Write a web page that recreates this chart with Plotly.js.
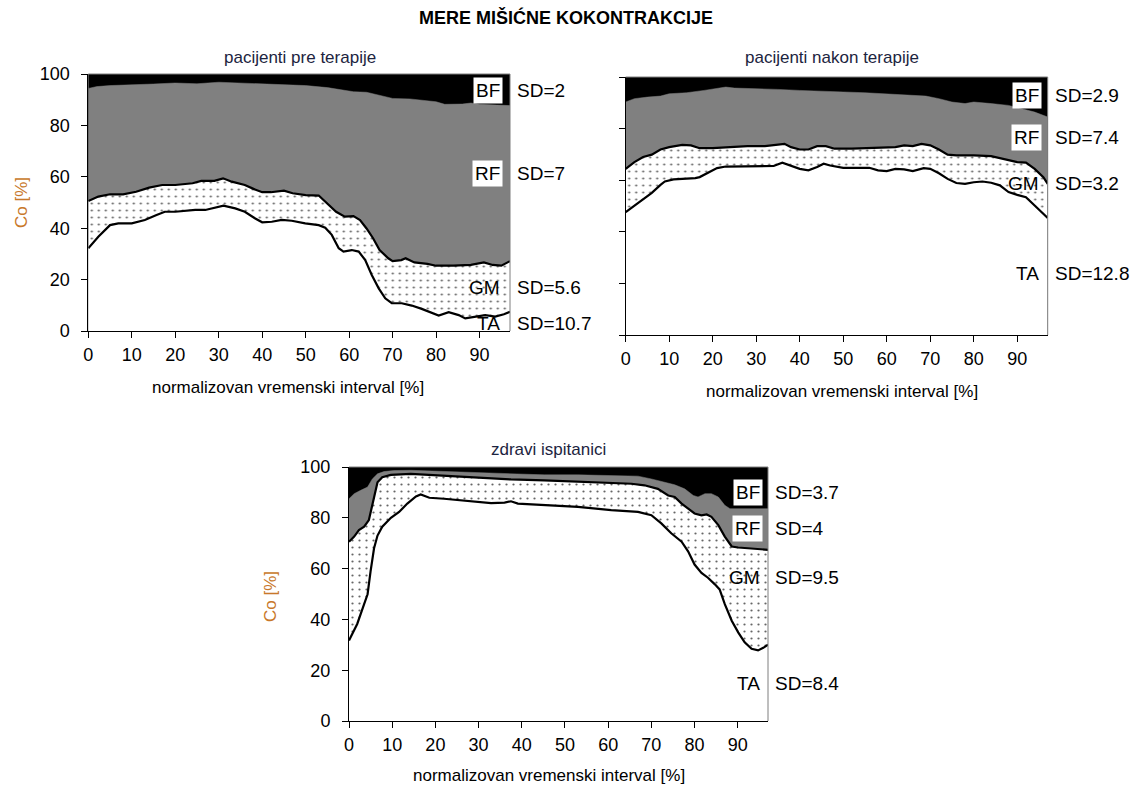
<!DOCTYPE html>
<html>
<head>
<meta charset="utf-8">
<script src="https://cdn.plot.ly/plotly-3.0.1.min.js"></script>
<style>html,body{margin:0;padding:0;background:#fff;}#chart{width:1132px;height:792px;}</style>
</head>
<body>
<div id="chart"></div>
<script>
// ---------- DATA (upper boundary of each cumulative layer, Co [%]) ----------
// Panel 1: pacijenti pre terapije
const preX_TA = [0,2.3,5,6.9,10,13,15.7,17.6,20,24.6,26.9,29.5,31.1,33.8,36,38.4,40,42.2,44.5,46.8,49.9,53,54.5,56,57.6,58.7,60.6,62.2,63.7,65.2,66.8,68.3,69.8,72.1,74.4,76.7,79,80.6,82.9,85.2,86.7,89,91.3,93.6,95.6,97];
const preTA   = [32.2,36.7,41.2,41.9,41.9,43.2,45.1,46.4,46.4,47.1,47.1,48,48.8,47.7,46.4,43.8,42.3,42.5,43.2,42.9,41.9,41.2,40.2,37.4,32.2,30.9,31.5,30.9,27.6,21.8,16.6,12.7,10.8,10.8,9.9,8.6,6.9,6.0,7.3,6.2,4.9,5.6,6.2,5.6,6.5,7.5];
const preX_GM = [0,2.3,5,8,11,14,17,20,24,26,29,31,33,36,38,40,42,45,47,50,53,55,57,59,61,62.5,64,65.5,67,69,70,72,73,75,78,80,84,88,91,93,95,97];
const preGM   = [50.6,52.3,53.2,53.2,54.2,55.8,56.8,56.8,57.5,58.4,58.4,59.4,58.1,56.8,55.3,54,54,54.6,53.6,52.9,52.7,49.7,46.4,44.5,44.7,43.2,39.9,36.1,31.5,28.3,27.2,27.6,28.3,26.7,26.1,25.4,25.4,25.7,26.7,25.7,25.4,27.2];
const preX_RF = [0,2,5,10,15,20,25,30,35,40,45,50,55,58,61,64,67,70,74,76,80,82,86,88,90,94,97];
const preRF   = [94.4,95.1,95.5,95.7,96.1,96.5,96.2,96.8,96.5,96.1,96,95.5,94.7,93.8,93.1,92.9,91.6,90.5,90.3,89.9,89.2,88.2,88.3,88.7,88.2,87.9,87.7];

// Panel 2: pacijenti nakon terapije
const postX_TA = [0,2,4,6,8,9,11,13,16,17,19,21,23,26,30,34,36,38,40,42,44,45.5,47,50,53,56,58,60,62,64,66,68.5,70,72,74,76,78,80,82,84,86,88,90,92,94,96,97];
const postTA   = [47.6,50.2,52.8,55.1,58.2,59.5,60.3,60.5,60.8,61.2,62.9,64.7,65.3,65.3,65.3,65.5,66.8,65.7,64.4,63.8,65.1,66.4,65.7,64.8,64.8,64.8,63.8,63.5,64.4,64.2,63.5,64.7,64.4,62.7,60.5,58.9,58.6,59.2,59.5,59,58,55.4,54.3,53.4,50.2,47,45.4];
const postX_GM = [0,2,4,6,8,10,13,15,17,20,24,28,32,35,36.5,38,40,42,44,46,48,52,56,60,62,64,66,68,70,72,74,76,80,84,86,88,90,92,94,96,97];
const postGM   = [64.4,67,69,69.9,71.9,72.8,73.7,73.5,72.4,72.4,72.8,73.2,73.2,73.7,74.1,72.8,71.9,71.9,73.2,73.2,72.2,72.2,72.4,72.8,72.8,73.5,73.2,74.1,73.5,71.9,69.9,69.6,69.6,69.3,68.6,67.7,67,66.8,64.4,61.2,58.6];
const postX_RF = [0,2,5,8,10,14,18,21,23,25,30,35,40,45,50,55,60,65,69,72,75,78,80,84,88,91,94,97];
const postRF   = [90.3,91.6,92.2,92.6,93.5,93.9,94.8,95.7,96.1,95.7,95.5,95.2,94.8,94.4,94.2,93.9,93.4,93.1,92.6,91.6,90.3,89.7,90.3,89.7,89,87.7,86.4,84.5];

// Panel 3: zdravi ispitanici
const healthyX_TA = [0,1.9,3.5,4.3,5.0,5.8,6.6,7.7,9.7,11.6,13.5,15.5,16.6,18.6,22,25.9,29.8,32.9,36,37.5,39.1,45.2,53,60.7,66.9,70,72.3,74.6,77,78.5,80,81.6,83.1,84.7,85.8,87,88.6,90.1,91.6,93.2,94.7,95.9,97];
const healthyTA   = [31.7,38.2,46,49.9,59,68,73,76.5,80,82.3,85.6,88.4,89.2,87.9,87.5,86.9,86.5,85.8,86,86.5,85.6,84.9,84.3,83,82.3,81,77.8,73.9,70.6,66.8,61.6,58.3,56.4,53.8,51.8,46,39.5,34.9,31,28.4,27.8,28.8,30];
const healthyX_GM = [0,1.2,2.3,3.5,4.6,5.8,6.6,7.7,9.7,14.3,18.2,22,29.8,37.5,45.2,53,60.7,65.4,68.4,71.5,73.9,75.4,77,78.5,80,81.6,82.8,83.9,85.5,87,88.6,90.1,93.2,97];
const healthyGM   = [70.6,72.6,75.2,76.5,79.1,87.5,94,96,96.9,97.3,96.9,96.4,95.6,95.1,94.7,94.3,93.8,93.4,92.8,91.4,88.8,88.2,85.6,83.6,81.7,81,81.3,80.4,77.1,72.6,68.7,68.3,67.8,67.4];
const healthyX_RF = [0,1.2,2.7,4.3,5.4,6.6,8.1,10.4,14.3,22,29.8,37.5,45.2,53,60.7,66.9,70,73.1,75.4,77.7,79.7,80.8,82.4,83.9,85.5,87,88.2,97];
const healthyRF   = [87.5,89.5,90.8,92.1,95.3,97.3,98.2,98.6,98.7,98.2,97.7,97.3,96.9,96.9,96.6,96.4,95.3,94,93,91.4,88.8,88.2,89.5,89.5,88.2,84.9,83.6,83.6];

// Labels
const mainTitle = "MERE MIŠIĆNE KOKONTRAKCIJE";
const panelTitles = ["pacijenti pre terapije", "pacijenti nakon terapije", "zdravi ispitanici"];
const muscles = ["BF", "RF", "GM", "TA"];
const sdPre = ["SD=2", "SD=7", "SD=5.6", "SD=10.7"];
const sdPost = ["SD=2.9", "SD=7.4", "SD=3.2", "SD=12.8"];
const sdHealthy = ["SD=3.7", "SD=4", "SD=9.5", "SD=8.4"];
const xTicks = [0,10,20,30,40,50,60,70,80,90];
const yTicks = [0,20,40,60,80,100];
const xTitle = "normalizovan vremenski interval [%]";
const yTitle = "Co [%]";

// ---------- STYLE ----------
const FONT = "Liberation Sans, Arial, sans-serif";
const W = 1132, H = 792;
const px = v => v / W;          // x pixel -> paper
const py = v => (H - v) / H;    // y pixel -> paper

const panels = [
  {xa:'x',  ya:'y',  TA:[preX_TA,preTA], GM:[preX_GM,preGM], RF:[preX_RF,preRF], sd:sdPre,
   labY:[93.4,61.4,17.0,3.0], labX:95.4,
   dom:{x:[88.3,510], y:[74,331]}, title:[300,57], xt:[288,387], yt:[22,203], ylabels:true},
  {xa:'x2', ya:'y2', TA:[postX_TA,postTA], GM:[postX_GM,postGM], RF:[postX_RF,postRF], sd:sdPost,
   labY:[92.9,76.7,58.6,23.7], labX:95.6,
   dom:{x:[625.7,1047.7], y:[77,335]}, title:[832,57], xt:[842,391], yt:null, ylabels:false},
  {xa:'x3', ya:'y3', TA:[healthyX_TA,healthyTA], GM:[healthyX_GM,healthyGM], RF:[healthyX_RF,healthyRF], sd:sdHealthy,
   labY:[90.1,75.8,56.4,14.8], labX:95.8,
   dom:{x:[349,768], y:[467,721]}, title:[548,450], xt:[549,775], yt:[270,597], ylabels:true}
];

const traces = [];
const annotations = [];
const shapes = [];
const layout = {
  width: W, height: H,
  margin: {l:0, r:0, t:0, b:0},
  paper_bgcolor: '#ffffff',
  plot_bgcolor: '#000000',
  showlegend: false,
  font: {family: FONT, size: 17, color: '#000'},
  annotations: annotations,
  shapes: shapes
};

panels.forEach((p, i) => {
  const n = i === 0 ? '' : String(i + 1);
  // RF layer (gray) - BF is the black plot background above it
  traces.push({x: p.RF[0], y: p.RF[1], xaxis: p.xa, yaxis: p.ya, type: 'scatter', mode: 'lines',
    fill: 'tozeroy', fillcolor: '#808080', line: {color: '#808080', width: 0.5}, hoverinfo: 'skip'});
  // GM layer (dotted)
  traces.push({x: p.GM[0], y: p.GM[1], xaxis: p.xa, yaxis: p.ya, type: 'scatter', mode: 'lines',
    fill: 'tozeroy', fillcolor: '#ffffff',
    fillpattern: {shape: '.', size: 7, solidity: 0.08, fgcolor: '#666666', bgcolor: '#ffffff'},
    line: {color: '#000000', width: 2.2}, hoverinfo: 'skip'});
  // TA layer (white)
  traces.push({x: p.TA[0], y: p.TA[1], xaxis: p.xa, yaxis: p.ya, type: 'scatter', mode: 'lines',
    fill: 'tozeroy', fillcolor: '#ffffff', line: {color: '#000000', width: 2.2}, hoverinfo: 'skip'});

  layout['xaxis' + n] = {
    domain: [px(p.dom.x[0]), px(p.dom.x[1])], anchor: p.ya, range: [0, 97],
    tickmode: 'array', tickvals: xTicks, ticktext: xTicks.map(String),
    ticks: 'outside', ticklen: 6, tickcolor: '#000', tickwidth: 1,
    showline: true, linecolor: '#000', linewidth: 1, showgrid: false, zeroline: false,
    tickfont: {family: FONT, size: 18, color: '#000'}, ticklabelstandoff: 1, fixedrange: true
  };
  layout['yaxis' + n] = {
    domain: [py(p.dom.y[1]), py(p.dom.y[0])], anchor: p.xa, range: [0, 100],
    tickmode: 'array', tickvals: yTicks, ticktext: yTicks.map(String),
    ticks: 'outside', ticklen: 6, tickcolor: '#000', tickwidth: 1,
    showline: true, linecolor: '#000', linewidth: 1, showgrid: false, zeroline: false,
    showticklabels: p.ylabels,
    tickfont: {family: FONT, size: 18, color: '#000'}, ticklabelstandoff: 8, fixedrange: true
  };

  // frame on right / top
  shapes.push({type: 'line', xref: p.xa + ' domain', yref: p.ya + ' domain', x0: 1, x1: 1, y0: 0, y1: 1,
    line: {color: '#7f7f7f', width: 1}});
  shapes.push({type: 'line', xref: p.xa + ' domain', yref: p.ya + ' domain', x0: 0, x1: 1, y0: 1, y1: 1,
    line: {color: '#7f7f7f', width: 1}});

  // muscle labels (BF, RF boxed white)
  muscles.forEach((m, k) => {
    const boxed = k < 2;
    annotations.push({xref: p.xa, yref: p.ya, x: p.labX, y: p.labY[k], text: m, showarrow: false,
      xanchor: 'right', yanchor: 'middle', font: {family: FONT, size: 19, color: '#000'},
      bgcolor: boxed ? '#ffffff' : 'rgba(0,0,0,0)', borderpad: 2});
    annotations.push({xref: p.xa + ' domain', yref: p.ya, x: 1, xshift: 5, y: p.labY[k], text: p.sd[k],
      showarrow: false, xanchor: 'left', yanchor: 'middle', font: {family: FONT, size: 19, color: '#000'}});
  });

  // panel title
  annotations.push({xref: 'paper', yref: 'paper', x: px(p.title[0]), y: py(p.title[1]), text: panelTitles[i],
    showarrow: false, xanchor: 'center', yanchor: 'middle', font: {family: FONT, size: 17, color: '#1c2440'}});
  // x axis title
  annotations.push({xref: 'paper', yref: 'paper', x: px(p.xt[0]), y: py(p.xt[1]), text: xTitle,
    showarrow: false, xanchor: 'center', yanchor: 'middle', font: {family: FONT, size: 17, color: '#000'}});
  // y axis title
  if (p.yt) {
    annotations.push({xref: 'paper', yref: 'paper', x: px(p.yt[0]), y: py(p.yt[1]), text: yTitle,
      textangle: -90, showarrow: false, xanchor: 'center', yanchor: 'middle',
      font: {family: FONT, size: 17, color: '#c8782a'}});
  }
});

annotations.push({xref: 'paper', yref: 'paper', x: px(566), y: py(18), text: '<b>' + mainTitle + '</b>',
  showarrow: false, xanchor: 'center', yanchor: 'middle', font: {family: FONT, size: 18, color: '#000'}});

Plotly.newPlot('chart', traces, layout, {staticPlot: true, displayModeBar: false});
</script>
</body>
</html>
